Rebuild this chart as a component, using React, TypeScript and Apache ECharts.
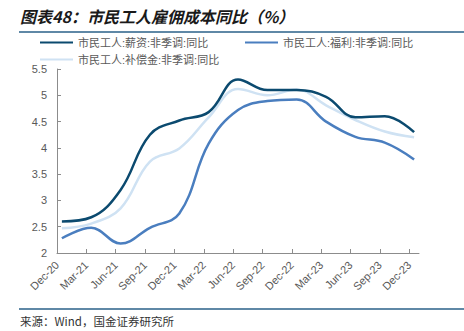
import React, { useEffect, useRef } from "react";
import * as echarts from "echarts";

const tickLabels = ["Dec-20","Mar-21","Jun-21","Sep-21","Dec-21","Mar-22","Jun-22","Sep-22","Dec-22","Mar-23","Jun-23","Sep-23","Dec-23"];
const seriesNames = ["市民工人:薪资:非季调:同比", "市民工人:福利:非季调:同比", "市民工人:补偿金:非季调:同比"];
const wages = [2.6, 2.68, 3.2, 4.25, 4.52, 4.68, 5.3, 5.1, 5.1, 4.97, 4.58, 4.6, 4.3];
const benefits = [2.28, 2.48, 2.18, 2.48, 2.75, 4.08, 4.72, 4.89, 4.92, 4.5, 4.21, 4.1, 3.78];
const compensation = [2.47, 2.56, 2.85, 3.74, 3.99, 4.58, 5.12, 5.0, 5.11, 4.81, 4.53, 4.31, 4.2];
const colors = ["#0b4a6f", "#4a7ebf", "#cfe2f3"];

const MONTHS_PER_TICK = 3;

export default function App() {
  const ref = useRef<HTMLDivElement>(null);
  useEffect(() => {
    if (!ref.current) return;
    const chart = echarts.init(ref.current, null, { renderer: "svg" });
    const toPairs = (arr: number[]) => arr.map((v, i) => [i * MONTHS_PER_TICK + 0.5, v]);
    const font = "'Liberation Sans', 'Noto Sans CJK SC', sans-serif";
    const tickVals = tickLabels.map((_, i) => i * MONTHS_PER_TICK);
    const mkSeries = (name: string, arr: number[], c: string) => ({
      name,
      type: "line",
      data: toPairs(arr),
      smooth: 0.4,
      symbol: "none",
      lineStyle: { color: c, width: 2.5 },
      itemStyle: { color: c },
    });
    const legendBase = {
      itemWidth: 33,
      itemHeight: 12,
      padding: 0,
      icon: "path://M0,5 L33,5 L33,7 L0,7 Z",
      textStyle: { color: "#595959", fontSize: 11, fontFamily: font },
    };
    chart.setOption({
      animation: false,
      backgroundColor: "#ffffff",
      grid: { left: 57, right: 45, top: 69, bottom: 78 },
      legend: [
        { ...legendBase, left: 40, top: 37, data: [seriesNames[0]] },
        { ...legendBase, left: 245, top: 37, data: [seriesNames[1]] },
        { ...legendBase, left: 40, top: 54, data: [seriesNames[2]] },
      ],
      xAxis: {
        type: "value",
        min: 0,
        max: 37,
        interval: 3,
        splitLine: { show: false },
        axisLine: { show: true, lineStyle: { color: "#8c8c8c", width: 1 } },
        axisTick: { show: true, inside: true, length: 4, lineStyle: { color: "#8c8c8c" }, customValues: tickVals },
        axisLabel: {
          customValues: tickVals,
          formatter: (v: number) => tickLabels[Math.round(v / MONTHS_PER_TICK)] ?? "",
          rotate: 45,
          color: "#595959",
          fontSize: 11,
          fontFamily: font,
          margin: 10,
        },
      },
      yAxis: {
        type: "value",
        min: 2,
        max: 5.5,
        interval: 0.5,
        splitLine: { show: false },
        axisLine: { show: true, lineStyle: { color: "#8c8c8c", width: 1 } },
        axisTick: { show: true, inside: true, length: 4, lineStyle: { color: "#8c8c8c" } },
        axisLabel: { color: "#595959", fontSize: 11, fontFamily: font, margin: 10 },
      },
      series: [
        mkSeries(seriesNames[2], compensation, colors[2]),
        mkSeries(seriesNames[1], benefits, colors[1]),
        mkSeries(seriesNames[0], wages, colors[0]),
      ],
      graphic: [
        {
          type: "text",
          left: 20,
          top: 8,
          style: {
            text: "图表48：市民工人雇佣成本同比（%）",
            fontSize: 16,
            fontWeight: "bold",
            fontStyle: "italic",
            fontFamily: "'Noto Sans CJK SC', sans-serif",
            fill: "#1a1a1a",
          },
        },
        { type: "line", shape: { x1: 19, y1: 32, x2: 464, y2: 32 }, style: { stroke: "#2a6189", lineWidth: 1.5 } },
        { type: "line", shape: { x1: 19, y1: 309, x2: 464, y2: 309 }, style: { stroke: "#2a6189", lineWidth: 1.5 } },
        {
          type: "text",
          left: 20,
          top: 315,
          style: {
            text: "来源：Wind，国金证券研究所",
            fontSize: 11.5,
            fontFamily: "'Noto Sans CJK SC', sans-serif",
            fill: "#333333",
          },
        },
      ],
    });
    return () => chart.dispose();
  }, []);
  return <div ref={ref} style={{ width: 464, height: 331, position: "absolute", left: 0, top: 0 }} />;
}
